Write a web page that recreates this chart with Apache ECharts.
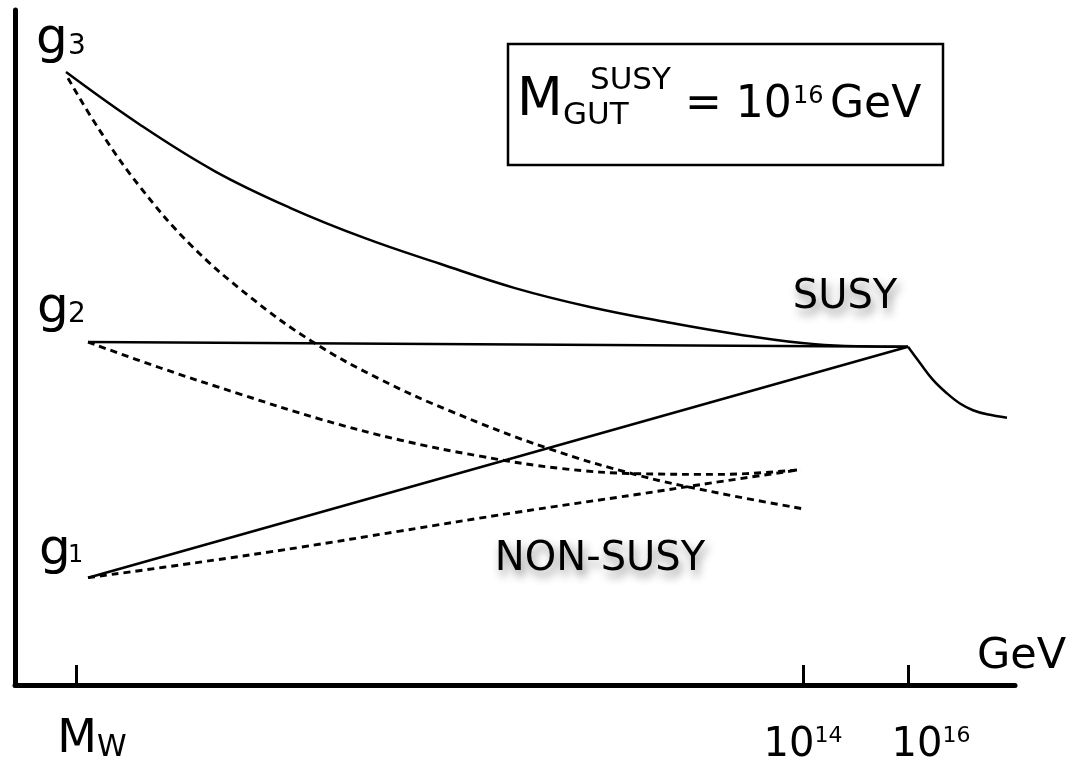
<!DOCTYPE html>
<html><head><meta charset="utf-8">
<script src="https://cdn.jsdelivr.net/npm/echarts@6/dist/echarts.min.js"></script>
<style>html,body{margin:0;padding:0;background:#fff}#c{width:1079px;height:766px}</style>
</head><body><div id="c"></div>
<script>
// ---- data (arbitrary sketch units: x = energy scale, y = coupling strength) ----
const tickValues = [6.1, 78.8, 89.3];
const tickLabels = ['MW', '10^14', '10^16'];
const axisName = 'GeV';

const g3Susy = [[5.1,90.8],[12.5,83.0],[20.0,76.1],[27.5,70.7],[35.0,66.2],[42.5,62.4],[50.0,58.8],[57.5,56.0],[65.0,53.8],[72.5,51.9],[80.0,50.5],[89.3,50.1]];
const g2Susy = [[7.3,50.8],[89.3,50.1]];
const g1Susy = [[7.3,15.9],[89.3,50.1]];
const unifiedSusy = [[89.3,50.1],[90.5,47.7],[91.8,45.2],[93.2,43.2],[94.5,41.7],[95.8,40.7],[97.2,40.1],[99.2,39.6]];

const g3NonSusy = [[5.3,89.9],[8.5,82.1],[12.5,73.8],[17.5,65.3],[23.5,57.5],[29.8,50.8],[36.5,45.3],[43.5,40.6],[53.2,35.1],[62.5,31.0],[70.5,28.4],[78.8,26.1]];
const g2NonSusy = [[7.3,50.8],[14.5,47.0],[22.5,43.1],[30.5,39.4],[38.5,36.3],[46.5,33.9],[54.5,32.1],[62.5,31.3],[70.5,31.2],[78.5,31.9]];
const g1NonSusy = [[7.3,15.9],[18.5,18.2],[28.5,20.4],[38.5,22.8],[49.8,25.5],[62.5,28.3],[69.5,29.9],[78.5,31.9]];

// ---- drawing ----
const FF = '"DejaVu Sans", sans-serif';
const chart = echarts.init(document.getElementById('c'), null, {renderer: 'canvas'});

const solid = {color: '#000', width: 2.5};
const dashed = {color: '#000', width: 2.9, type: [7, 5]};
function line(name, data, style, smooth) {
  return {type: 'line', name, data, showSymbol: false, smooth: smooth ? 0.4 : false,
    lineStyle: style, itemStyle: {color: '#000'}, silent: true, z: 3};
}

function fmtTick(v) {
  let i = 0, best = 1e9;
  tickValues.forEach(function (tv, k) { const d = Math.abs(tv - v); if (d < best) { best = d; i = k; } });
  const t = tickLabels[i];
  if (t.indexOf('^') < 0) return '{m|' + t.charAt(0) + '}{w|' + t.slice(1) + '}';
  const p = t.split('^');
  return (i === 2 ? '{tenB|' : '{ten|') + p[0] + '}{sup|' + p[1] + '}';
}

function txt(text, x, y, size, extra) {
  return Object.assign({type: 'text', x, y, silent: true, z: 10,
    style: Object.assign({text, fill: '#000', font: size + 'px ' + FF, textAlign: 'left', textVerticalAlign: 'middle'}, extra || {})});
}
const shadow = {textShadowColor: 'rgba(0,0,0,0.45)', textShadowBlur: 10, textShadowOffsetX: 3, textShadowOffsetY: 6};

const option = {
  animation: false,
  backgroundColor: '#fff',
  grid: {left: 15, right: 64, top: 10, bottom: 81, containLabel: false, outerBoundsMode: 'none'},
  xAxis: {
    type: 'value', min: 0, max: 100,
    name: axisName, nameLocation: 'end', nameGap: -38, nameMoveOverlap: false,
    nameTextStyle: {fontFamily: FF, fontSize: 43, color: '#000', padding: [0, 0, 7, 0], verticalAlign: 'bottom', align: 'left'},
    axisLine: {show: true, onZero: false, lineStyle: {color: '#000', width: 5}},
    splitLine: {show: false},
    axisTick: {show: true, inside: true, length: 20, customValues: tickValues, lineStyle: {color: '#000', width: 3}},
    axisLabel: {show: true, customValues: tickValues, margin: 32, formatter: fmtTick, color: '#000',
      hideOverlap: false, interval: 0, showMinLabel: true, showMaxLabel: true,
      rich: {
        m: {fontFamily: FF, fontSize: 46, lineHeight: 46, verticalAlign: 'middle', padding: [0, 0, 0, 32], color: '#000'},
        w: {fontFamily: FF, fontSize: 30, lineHeight: 12, verticalAlign: 'bottom', color: '#000'},
        ten: {fontFamily: FF, fontSize: 40, lineHeight: 58, verticalAlign: 'middle', color: '#000'},
        tenB: {fontFamily: FF, fontSize: 40, lineHeight: 58, verticalAlign: 'middle', padding: [0, 0, 0, 46], color: '#000'},
        sup: {fontFamily: FF, fontSize: 22, lineHeight: 22, verticalAlign: 'top', padding: [8, 0, 0, 0], color: '#000'}
      }}
  },
  yAxis: {
    type: 'value', min: 0, max: 100,
    axisLine: {show: true, onZero: false, lineStyle: {color: '#000', width: 5}},
    axisTick: {show: false}, axisLabel: {show: false}, splitLine: {show: false}
  },
  series: [
    line('g3 SUSY', g3Susy, solid, true),
    line('g2 SUSY', g2Susy, solid, false),
    line('g1 SUSY', g1Susy, solid, false),
    line('unified SUSY', unifiedSusy, solid, true),
    line('g3 non-SUSY', g3NonSusy, dashed, true),
    line('g2 non-SUSY', g2NonSusy, dashed, true),
    line('g1 non-SUSY', g1NonSusy, dashed, true)
  ],
  graphic: [
    {type: 'rect', shape: {x: 508, y: 44, width: 435, height: 121}, style: {fill: '#fff', stroke: '#000', lineWidth: 2.5}, z: 5, silent: true},
    txt('M', 517, 101, 53),
    txt('GUT', 563, 116, 31),
    txt('SUSY', 590, 81, 31),
    txt('= 10', 685, 106, 44),
    txt('16', 793, 97, 24),
    txt('GeV', 830, 106, 44),
    txt('g', 36, 40, 50), txt('3', 68, 47, 28),
    txt('g', 37, 309, 50), txt('2', 68, 315, 28),
    txt('g', 39, 551, 50), txt('1', 68, 556, 24),
    txt('SUSY', 845, 298, 40, Object.assign({textAlign: 'center'}, shadow)),
    txt('NON-SUSY', 600, 560, 40, Object.assign({textAlign: 'center'}, shadow))
  ]
};
chart.setOption(option);
</script>
</body></html>
